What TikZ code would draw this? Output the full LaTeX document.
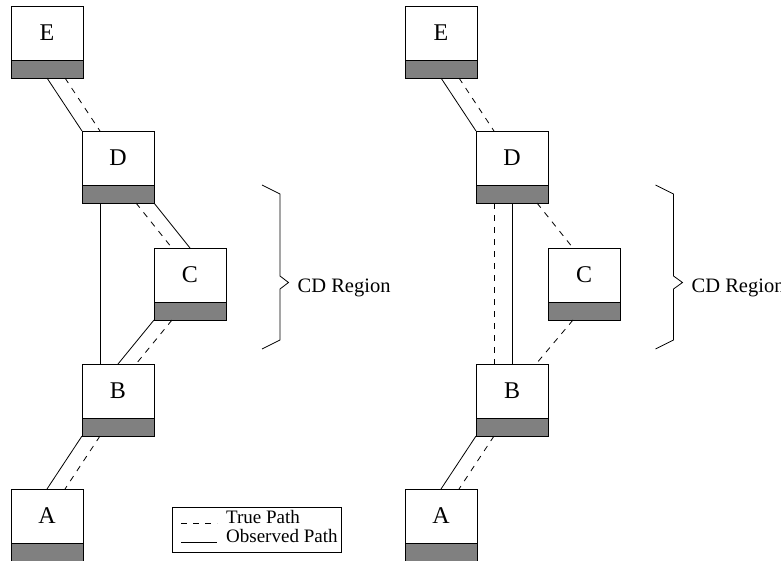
\documentclass[tikz,border=0pt]{standalone}
\usepackage{fontspec}
\setmainfont{Liberation Serif}
\definecolor{boxgray}{RGB}{128,128,128}
\newcommand\tbox[4]{%
  \node[whitepart] (#1) at (#2,#3) {#4};
  \node[graypart] (#1g) at (#1.south west) {};}
\begin{document}
\begin{tikzpicture}[x=1pt,y=-1pt,
  whitepart/.style={draw, line width=1pt, minimum width=72pt, minimum height=54pt,
    inner sep=0pt, outer sep=0pt, anchor=north west, font=\fontsize{24}{28}\selectfont},
  graypart/.style={draw, fill=boxgray, line width=1pt, minimum width=72pt, minimum height=18pt,
    inner sep=0pt, outer sep=0pt, anchor=north west},
  obs/.style={line width=0.8pt},
  tru/.style={line width=0.8pt, dash pattern=on 6pt off 6pt},
  bracestyle/.style={line width=0.8pt},
  lbl/.style={font=\fontsize{20.5}{24}\selectfont, inner sep=0pt, anchor=base west},
  leglbl/.style={font=\fontsize{19}{22}\selectfont, inner sep=0pt, anchor=base west},
]
\useasboundingbox (0,0) rectangle (781,560);
\fill[white] (0,0) rectangle (781,560);
% left panel
\tbox{E}{11}{6}{E}
\tbox{D}{82}{131}{D}
\tbox{C}{154}{248}{C}
\tbox{B}{82}{364}{B}
\tbox{A}{11}{489}{A}
% right panel
\tbox{E2}{405}{6}{E}
\tbox{D2}{476}{131}{D}
\tbox{C2}{548}{248}{C}
\tbox{B2}{476}{364}{B}
\tbox{A2}{405}{489}{A}
% left connectors
\draw[obs] (Eg.south) -- (D.north west);
\draw[tru] ([xshift=18pt]Eg.south) -- ([xshift=-18pt]D.north);
\draw[obs] (Dg.south east) -- (C.north);
\draw[tru] ([xshift=18pt]Dg.south) -- ([xshift=-18pt]C.north);
\draw[obs] ([xshift=-18pt]Dg.south) -- ([xshift=-18pt]B.north);
\draw[obs] (Cg.south west) -- (B.north);
\draw[tru] ([xshift=-18pt]Cg.south) -- ([xshift=18pt]B.north);
\draw[obs] (Bg.south west) -- (A.north);
\draw[tru] ([xshift=-18pt]Bg.south) -- ([xshift=18pt]A.north);
% right connectors
\draw[obs] (E2g.south) -- (D2.north west);
\draw[tru] ([xshift=18pt]E2g.south) -- ([xshift=-18pt]D2.north);
\draw[obs] (D2g.south) -- (B2.north);
\draw[tru] ([xshift=-18pt]D2g.south) -- ([xshift=-18pt]B2.north);
\draw[tru] ([xshift=25pt]D2g.south) -- ([xshift=-11pt]C2.north);
\draw[tru] ([xshift=-11pt]C2g.south) -- ([xshift=24pt]B2.north);
\draw[obs] (B2g.south west) -- (A2.north);
\draw[tru] ([xshift=-18pt]B2g.south) -- ([xshift=18pt]A2.north);
% braces
\draw[bracestyle] (262,185) -- (280,194) -- (280,276) -- (288.5,282.5) -- (280,289) -- (280,340) -- (262,349);
\draw[bracestyle] (655.5,185) -- (673.5,194) -- (673.5,276) -- (682.5,282.5) -- (673.5,289) -- (673.5,340) -- (655.5,349);
\node[lbl] (cdl) at (297.5,292.5) {CD Region};
\node[lbl] (cdr) at (691.5,292.5) {CD Region};
% legend
\node[draw, line width=0.8pt, inner sep=0pt, outer sep=0pt, minimum width=169pt,
  minimum height=45pt, anchor=north west] (leg) at (172,507) {};
\node[leglbl] (tp) at (226,523.5) {True Path};
\node[leglbl] (op) at (226,542) {Observed Path};
\draw[tru] ([xshift=-45pt]tp.base west) -- ([xshift=-9pt]tp.base west);
\draw[obs] ([xshift=-45pt]op.base west) -- ([xshift=-9pt]op.base west);
\end{tikzpicture}
\end{document}
